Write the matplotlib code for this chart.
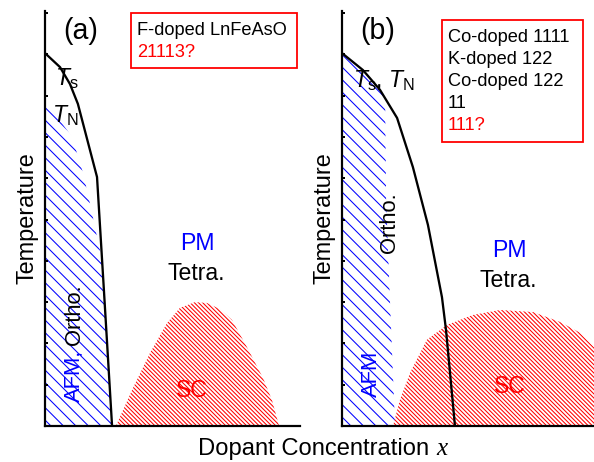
import matplotlib
matplotlib.use('Agg')
import matplotlib.pyplot as plt
from matplotlib.patches import Rectangle

DPI = 75


def pt(px):
    # sizes were measured in pixels on the reference
    return px * 72.0 / DPI


plt.rcParams['font.family'] = ['Liberation Sans', 'DejaVu Sans']
plt.rcParams['mathtext.fontset'] = 'custom'
plt.rcParams['mathtext.rm'] = 'Liberation Sans'
plt.rcParams['mathtext.it'] = 'Liberation Sans:italic'
plt.rcParams['hatch.linewidth'] = 1.0

AFM_HATCH = '\\' * 2
SC_HATCH = '\\' * 6

# panel (a): structural / magnetic line and domes
ts_a_x = [0.0, 0.059, 0.098, 0.129, 0.204, 0.231, 0.263]
ts_a_y = [9.03, 8.69, 8.28, 7.80, 6.03, 3.29, 0.0]
tn_a_x = [0.0, 0.051, 0.106, 0.149, 0.176, 0.204, 0.220]
tn_a_y = [7.94, 7.46, 7.00, 6.13, 5.40, 4.58, 4.14]
sc_a_x = [0.278, 0.310, 0.345, 0.412, 0.478, 0.529, 0.588, 0.635, 0.686,
          0.733, 0.792, 0.855, 0.890, 0.918]
sc_a_y = [0.0, 0.44, 0.92, 1.77, 2.49, 2.86, 3.00, 2.98, 2.83, 2.57, 1.91,
          1.16, 0.63, 0.0]

# panel (b)
ts_b_x = [0.0, 0.082, 0.149, 0.216, 0.278, 0.337, 0.392, 0.408, 0.443]
ts_b_y = [9.03, 8.62, 8.14, 7.46, 6.27, 4.87, 3.12, 2.32, 0.0]
afm_b_x = [0.0, 0.0, 0.082, 0.149, 0.169, 0.173, 0.188, 0.208]
afm_b_y = [0.0, 9.03, 8.62, 8.14, 7.94, 5.47, 3.05, 0.0]
sc_b_x = [0.200, 0.227, 0.267, 0.333, 0.412, 0.514, 0.620, 0.749, 0.855,
          0.933, 0.988, 1.071, 1.071]
sc_b_y = [0.0, 0.63, 1.29, 2.09, 2.45, 2.69, 2.81, 2.76, 2.52, 2.26, 1.91,
          1.40, 0.0]

box_a = ["F-doped LnFeAsO", "21113?"]
box_a_colors = ['black', 'red']
box_b = ["Co-doped 1111", "K-doped 122", "Co-doped 122", "11", "111?"]
box_b_colors = ['black', 'black', 'black', 'black', 'red']

fig = plt.figure(figsize=(594 / DPI, 462 / DPI), dpi=DPI)
ax_a = fig.add_axes([45 / 594, 36 / 462, 255 / 594, 415 / 462])
ax_b = fig.add_axes([342 / 594, 36 / 462, 252 / 594, 415 / 462])

for ax, xmax in ((ax_a, 1.0), (ax_b, 252 / 255)):
    ax.set_xlim(0, xmax)
    ax.set_ylim(0, 10.05)
    for s in ('top', 'right'):
        ax.spines[s].set_visible(False)
    for s in ('left', 'bottom'):
        ax.spines[s].set_linewidth(pt(2.2))
    ax.set_xticks([])
    ax.set_yticks(range(0, 11))
    ax.set_yticklabels([])
    ax.tick_params(axis='y', direction='in', length=pt(2.5), width=pt(2))
    ax.set_ylabel('Temperature', fontsize=pt(23.5), labelpad=pt(3))

# ---- panel (a)
afm_a_x = [0.0] + tn_a_x + ts_a_x[-2:]
afm_a_y = [0.0] + tn_a_y + ts_a_y[-2:]
ax_a.fill(afm_a_x, afm_a_y, facecolor='none', edgecolor='blue',
          hatch=AFM_HATCH, linewidth=0)
ax_a.fill(sc_a_x, sc_a_y, facecolor='none', edgecolor='red',
          hatch=SC_HATCH, linewidth=0)
ax_a.plot(ts_a_x, ts_a_y, color='black', lw=pt(2.3))

ax_a.text(0.141, 9.56, '(a)', fontsize=pt(28.5), ha='center', va='center')
ax_a.add_patch(Rectangle((0.337, 8.67), 0.651, 1.33, facecolor='none',
                         edgecolor='red', lw=pt(1.8), clip_on=False))
for i, (t, c) in enumerate(zip(box_a, box_a_colors)):
    ax_a.text(0.361, 9.47 - i * 0.54, t, color=c, fontsize=pt(18.3),
              va='baseline')
ax_a.text(0.039, 8.26, r'$T_\mathrm{s}$', fontsize=pt(23), va='baseline')
ax_a.text(0.027, 7.36, r'$T_\mathrm{N}$', fontsize=pt(23), va='baseline')
ax_a.text(0.137, 0.58, 'AFM,', color='blue', fontsize=pt(22), rotation=90,
          rotation_mode='anchor', ha='left', va='baseline')
ax_a.text(0.137, 1.96, 'Ortho.', color='black', fontsize=pt(22), rotation=90,
          rotation_mode='anchor', ha='left', va='baseline')
ax_a.text(0.596, 4.26, 'PM', color='blue', fontsize=pt(23), ha='center',
          va='baseline')
ax_a.text(0.592, 3.535, 'Tetra.', fontsize=pt(23), ha='center', va='baseline')
ax_a.text(0.576, 0.70, 'SC', color='red', fontsize=pt(23), ha='center',
          va='baseline')

# ---- panel (b)
ax_b.fill(afm_b_x, afm_b_y, facecolor='none', edgecolor='blue',
          hatch=AFM_HATCH, linewidth=0)
ax_b.fill(sc_b_x, sc_b_y, facecolor='none', edgecolor='red',
          hatch=SC_HATCH, linewidth=0)
ax_b.plot(ts_b_x, ts_b_y, color='black', lw=pt(2.3))

ax_b.text(0.141, 9.56, '(b)', fontsize=pt(28.5), ha='center', va='center')
ax_b.add_patch(Rectangle((0.392, 6.88), 0.553, 2.95, facecolor='none',
                         edgecolor='red', lw=pt(1.8), clip_on=False))
for i, (t, c) in enumerate(zip(box_b, box_b_colors)):
    ax_b.text(0.416, 9.30 - i * 0.532, t, color=c, fontsize=pt(18.3),
              va='baseline')
ax_b.text(0.043, 8.21, r'$T_\mathrm{s}$, $T_\mathrm{N}$', fontsize=pt(23),
          va='baseline')
ax_b.text(0.137, 0.70, 'AFM', color='blue', fontsize=pt(22), rotation=90,
          rotation_mode='anchor', ha='left', va='baseline')
ax_b.text(0.208, 4.19, 'Ortho.', color='black', fontsize=pt(22), rotation=90,
          rotation_mode='anchor', ha='left', va='baseline')
ax_b.text(0.655, 4.09, 'PM', color='blue', fontsize=pt(23), ha='center',
          va='baseline')
ax_b.text(0.651, 3.37, 'Tetra.', fontsize=pt(23), ha='center', va='baseline')
ax_b.text(0.659, 0.80, 'SC', color='red', fontsize=pt(23), ha='center',
          va='baseline')

# x label, with a serif italic x
fig.text(198 / 594, 7 / 462, 'Dopant Concentration', fontsize=pt(23.8),
         va='baseline', ha='left')
fig.text(436 / 594, 7 / 462, 'x', fontsize=pt(25), va='baseline', ha='left',
         family='Liberation Serif', style='italic')

fig.savefig('out.png', dpi=DPI)
